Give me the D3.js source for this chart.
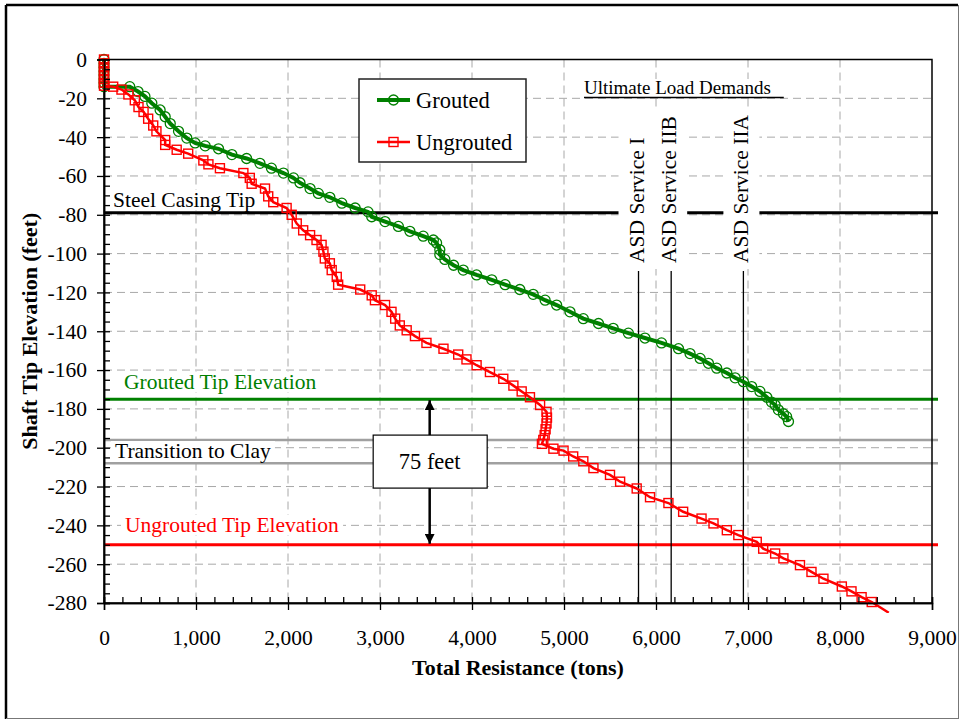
<!DOCTYPE html>
<html>
<head>
<meta charset="utf-8">
<script src="https://cdn.jsdelivr.net/npm/d3@7"></script>
<style>
  body { margin: 0; background: #fff; }
  svg { display: block; font-family: "Times New Roman", "Liberation Serif", serif; }
</style>
</head>
<body>
<div id="chart"></div>
<script>
// axis ticks
var xTicks = [0, 1000, 2000, 3000, 4000, 5000, 6000, 7000, 8000, 9000];
var yTicks = [0, -20, -40, -60, -80, -100, -120, -140, -160, -180, -200, -220, -240, -260, -280];

// grouted shaft: total resistance (tons) vs tip elevation (feet)
var groutedTons = [0, 0, 0, 0, 0, 0, 0, 0, 280, 370, 445, 520, 610, 665, 720, 810, 900, 990, 1100, 1245,
  1390, 1550, 1695, 1820, 1950, 2060, 2130, 2240, 2330, 2455, 2585, 2730, 2870, 2910, 3055, 3200, 3325,
  3470, 3580, 3615, 3650, 3650, 3705, 3800, 3905, 4050, 4215, 4360, 4520, 4665, 4795, 4920, 5065, 5210,
  5375, 5535, 5700, 5880, 6060, 6245, 6370, 6480, 6570, 6660, 6770, 6860, 6950, 7040, 7130, 7205, 7255,
  7295, 7330, 7385, 7420, 7440];
var groutedElev = [0, -2, -4, -6, -8, -10, -12, -14, -14, -16.5, -19, -22.5, -26, -29.5, -33, -37, -40.5,
  -43, -44.5, -46, -49, -51, -53.5, -56, -58.5, -61, -63.5, -66.5, -69, -71, -74, -76.5, -78.5, -81, -83.5,
  -86, -88.5, -91, -93, -94.5, -98, -100.5, -103, -106, -108.5, -111, -113.5, -116, -118.5, -121, -124,
  -126.5, -130, -133.5, -136, -138.5, -141, -143.5, -146, -149, -151.5, -154, -156.5, -159, -161.5, -164,
  -166, -168.5, -171, -174, -176.5, -178, -180.5, -182.5, -184, -186.5];

// ungrouted shaft
var ungroutedTons = [0, 0, 0, 0, 0, 0, 0, 0, 100, 190, 265, 335, 375, 430, 480, 535, 570, 665, 665, 790,
  915, 1080, 1135, 1260, 1515, 1585, 1605, 1750, 1785, 1840, 1985, 2040, 2095, 2165, 2240, 2310, 2365,
  2385, 2400, 2455, 2475, 2530, 2545, 2785, 2910, 2945, 3055, 3125, 3165, 3215, 3290, 3380, 3505, 3690,
  3850, 3940, 4050, 4195, 4340, 4450, 4540, 4630, 4740, 4810, 4815, 4810, 4800, 4790, 4775, 4760, 4885,
  4995, 5100, 5210, 5320, 5500, 5610, 5790, 5935, 6135, 6295, 6495, 6625, 6770, 6895, 7095, 7165, 7295,
  7385, 7565, 7690, 7820, 8020, 8125, 8235, 8345, 8530];
var ungroutedElev = [0, -2, -4, -6, -8, -10, -12, -13.5, -14, -15.5, -18, -21, -24.5, -27, -30.5, -34, -37,
  -41.5, -44, -46.5, -48.5, -52, -54, -56, -58.5, -61, -64, -66.5, -70.5, -73.5, -76.5, -80, -84.5, -88,
  -90.5, -93, -95.5, -99, -102.5, -105, -108.5, -112, -116, -118.5, -121.5, -124, -126.5, -130, -133.5,
  -137, -139.5, -142.5, -146, -149, -152, -154.5, -157.5, -161, -164.5, -168, -171, -174, -178, -181.5,
  -184.5, -187.5, -190.5, -193.5, -196, -198, -200.5, -201.5, -204.5, -207, -210.5, -214, -217.5, -221,
  -225.5, -228.5, -233, -236.5, -239, -242.5, -245, -248.5, -252, -254.5, -257, -260.5, -264, -267.5,
  -271.5, -274, -277, -279.5, -285];

// horizontal reference elevations (feet)
var casingTip = -79;
var groutedTip = -175;
var clayTop = -196;
var clayBottom = -208;
var ungroutedTip = -250;

// ultimate load demands (tons)
var demandNames = ["ASD Service I", "ASD Service IIB", "ASD Service IIA"];
var demandTons = [5810, 6165, 6950];
var demandTopElev = -109;

var W = 964, H = 721;
var font = 21.5;

var x = d3.scaleLinear().domain([0, 9000]).range([104, 932]);
var y = d3.scaleLinear().domain([0, -280]).range([59.5, 603]);

var svg = d3.select("#chart").append("svg")
  .attr("width", W)
  .attr("height", H);

svg.append("rect").attr("width", W).attr("height", H).attr("fill", "#fff");

svg.append("defs").append("clipPath").attr("id", "plotClip")
  .append("rect")
  .attr("x", x(0) - 8).attr("y", y(0) - 10)
  .attr("width", x(9000) - x(0) + 16).attr("height", y(-280) - y(0) + 20);

// gridlines
var grid = svg.append("g").attr("stroke", "#a8a8a8").attr("stroke-width", 1).attr("stroke-dasharray", "8,5");
grid.selectAll("line.h")
  .data(yTicks.filter(function(d) { return d !== 0 && d !== -280; }))
  .enter().append("line")
  .attr("x1", x(0)).attr("x2", x(9000))
  .attr("y1", function(d) { return y(d); }).attr("y2", function(d) { return y(d); });
grid.selectAll("line.v")
  .data(xTicks.filter(function(d) { return d !== 0 && d !== 9000; }))
  .enter().append("line")
  .attr("y1", y(0)).attr("y2", y(-280))
  .attr("x1", function(d) { return x(d); }).attr("x2", function(d) { return x(d); });

// reference elevations
function refLine(elev, color, width) {
  svg.append("line")
    .attr("x1", x(0)).attr("x2", x(9000) + 6)
    .attr("y1", y(elev)).attr("y2", y(elev))
    .attr("stroke", color).attr("stroke-width", width);
}
refLine(clayTop, "#a0a0a0", 2.5);
refLine(clayBottom, "#a0a0a0", 2.5);
refLine(groutedTip, "#008000", 3);
refLine(ungroutedTip, "#ff0000", 3);
refLine(casingTip, "#000", 3);

// label with white box behind it
function boxedLabel(txt, px, py, color, size) {
  var g = svg.append("g");
  var bg = g.append("rect").attr("fill", "#fff");
  var t = g.append("text")
    .attr("x", px).attr("y", py)
    .attr("font-size", size)
    .attr("fill", color)
    .text(txt);
  var bb = t.node().getBBox();
  bg.attr("x", bb.x - 4).attr("y", bb.y + 2).attr("width", bb.width + 8).attr("height", bb.height - 4);
  return t;
}
boxedLabel("Steel Casing Tip", 113, 207, "#000", font);
boxedLabel("Grouted Tip Elevation", 124, 389, "#008000", font);
boxedLabel("Transition to Clay", 115, 458, "#000", font);
boxedLabel("Ungrouted Tip Elevation", 125, 532, "#ff0000", font);

// ultimate load demand lines
svg.selectAll("line.demand")
  .data(demandTons)
  .enter().append("line")
  .attr("x1", function(d) { return x(d); }).attr("x2", function(d) { return x(d); })
  .attr("y1", y(demandTopElev)).attr("y2", y(-280))
  .attr("stroke", "#000").attr("stroke-width", 1.3);

demandTons.forEach(function(d, i) {
  var g = svg.append("g")
    .attr("transform", "translate(" + (x(d) + 5) + "," + 263 + ") rotate(-90)");
  var bg = g.append("rect").attr("fill", "#fff");
  var t = g.append("text")
    .attr("font-size", font)
    .attr("fill", "#000")
    .text(demandNames[i]);
  var bb = t.node().getBBox();
  bg.attr("x", bb.x - 6).attr("y", bb.y - 6).attr("width", bb.width + 12).attr("height", bb.height + 12);
});

var uld = boxedLabel("Ultimate Load Demands", 584, 94, "#000", 19);
var ub = uld.node().getBBox();
svg.append("line")
  .attr("x1", ub.x).attr("x2", ub.x + ub.width + 13)
  .attr("y1", 97.5).attr("y2", 97.5)
  .attr("stroke", "#000").attr("stroke-width", 1.5);

// plot border and axes
svg.append("rect")
  .attr("x", x(0)).attr("y", y(0))
  .attr("width", x(9000) - x(0)).attr("height", y(-280) - y(0))
  .attr("fill", "none").attr("stroke", "#000").attr("stroke-width", 1.5);

// annotation: 75 feet between tip elevations
var arrowTons = 3540;
var defs = svg.select("defs");
defs.append("marker").attr("id", "arrowHead")
  .attr("viewBox", "0 0 10 10").attr("refX", 10).attr("refY", 5)
  .attr("markerWidth", 4).attr("markerHeight", 4)
  .attr("orient", "auto-start-reverse")
  .append("path").attr("d", "M0,0 L10,5 L0,10 z").attr("fill", "#000");
svg.append("line")
  .attr("x1", x(arrowTons)).attr("x2", x(arrowTons))
  .attr("y1", y(groutedTip) + 1).attr("y2", y(ungroutedTip) - 1)
  .attr("stroke", "#000").attr("stroke-width", 2.5)
  .attr("marker-start", "url(#arrowHead)")
  .attr("marker-end", "url(#arrowHead)");
svg.append("rect")
  .attr("x", x(arrowTons) - 56.5).attr("y", y(-193.5))
  .attr("width", 114).attr("height", 53)
  .attr("fill", "#fff").attr("stroke", "#000").attr("stroke-width", 1.2);
svg.append("text")
  .attr("x", x(arrowTons)).attr("y", y(-193.5) + 34)
  .attr("text-anchor", "middle")
  .attr("font-size", font + 1)
  .text("75 feet");

// series
var line = d3.line()
  .x(function(d) { return x(d[0]); })
  .y(function(d) { return y(d[1]); });

var grouted = d3.zip(groutedTons, groutedElev);
var ungrouted = d3.zip(ungroutedTons, ungroutedElev);

var series = svg.append("g").attr("clip-path", "url(#plotClip)");

series.append("path")
  .datum(grouted)
  .attr("d", line)
  .attr("fill", "none").attr("stroke", "#008000").attr("stroke-width", 4);
series.selectAll("circle.g")
  .data(grouted)
  .enter().append("circle")
  .attr("cx", function(d) { return x(d[0]); })
  .attr("cy", function(d) { return y(d[1]); })
  .attr("r", 5)
  .attr("fill", "none").attr("stroke", "#008000").attr("stroke-width", 1.3);

series.append("path")
  .datum(ungrouted)
  .attr("d", line)
  .attr("fill", "none").attr("stroke", "#ff0000").attr("stroke-width", 2.5);
series.selectAll("rect.u")
  .data(ungrouted.filter(function(d) { return d[1] >= -281; }))
  .enter().append("rect")
  .attr("x", function(d) { return x(d[0]) - 4.5; })
  .attr("y", function(d) { return y(d[1]) - 4.5; })
  .attr("width", 9).attr("height", 9)
  .attr("fill", "none").attr("stroke", "#ff0000").attr("stroke-width", 1.4);

// axes
var yAxis = svg.append("g")
  .attr("transform", "translate(" + x(0) + ",0)")
  .call(d3.axisLeft(y).tickValues(yTicks).tickSize(7).tickPadding(10)
    .tickFormat(function(d) { return String(d); }));
svg.append("g")
  .attr("transform", "translate(" + x(0) + ",0)")
  .call(d3.axisRight(y).tickValues(d3.range(0, -281, -5)).tickSize(6).tickFormat(""));

var xAxis = svg.append("g")
  .attr("transform", "translate(0," + y(-280) + ")")
  .call(d3.axisBottom(x).tickValues(xTicks).tickSize(7).tickPadding(20).tickFormat(d3.format(",")));
svg.append("g")
  .attr("transform", "translate(0," + y(-280) + ")")
  .call(d3.axisTop(x).tickValues(d3.range(0, 9001, 200)).tickSize(6).tickFormat(""));

svg.selectAll(".domain").attr("stroke", "#000").attr("stroke-width", 1.5);
svg.selectAll(".tick line").attr("stroke", "#000").attr("stroke-width", 1.3);
svg.selectAll(".tick text")
  .attr("font-family", "'Times New Roman', 'Liberation Serif', serif")
  .attr("font-size", font).attr("fill", "#000");

// axis titles
svg.append("text")
  .attr("x", x(4500)).attr("y", 675)
  .attr("text-anchor", "middle")
  .attr("font-size", font + 0.5).attr("font-weight", "bold")
  .text("Total Resistance (tons)");
svg.append("text")
  .attr("transform", "translate(37," + y(-140) + ") rotate(-90)")
  .attr("text-anchor", "middle")
  .attr("font-size", font + 0.5).attr("font-weight", "bold")
  .text("Shaft Tip Elevation (feet)");

// legend
var legend = svg.append("g").attr("transform", "translate(359,79)");
legend.append("rect")
  .attr("width", 167).attr("height", 83)
  .attr("fill", "#fff").attr("stroke", "#222").attr("stroke-width", 1.5);
var lg = legend.append("g").attr("transform", "translate(0,21)");
lg.append("line").attr("x1", 18).attr("x2", 51).attr("stroke", "#008000").attr("stroke-width", 4);
lg.append("circle").attr("cx", 34.5).attr("r", 5).attr("fill", "none").attr("stroke", "#008000").attr("stroke-width", 1.3);
lg.append("text").attr("x", 57).attr("y", 8).attr("font-size", font + 1).text("Grouted");
var lu = legend.append("g").attr("transform", "translate(0,63)");
lu.append("line").attr("x1", 18).attr("x2", 51).attr("stroke", "#ff0000").attr("stroke-width", 2.5);
lu.append("rect").attr("x", 30).attr("y", -4.5).attr("width", 9).attr("height", 9)
  .attr("fill", "none").attr("stroke", "#ff0000").attr("stroke-width", 1.4);
lu.append("text").attr("x", 57).attr("y", 8).attr("font-size", font + 1).text("Ungrouted");

// chart frame
svg.append("line").attr("x1", 6).attr("x2", 958).attr("y1", 5).attr("y2", 5).attr("stroke", "#000").attr("stroke-width", 2.5);
svg.append("line").attr("x1", 6).attr("x2", 6).attr("y1", 5).attr("y2", 719).attr("stroke", "#000").attr("stroke-width", 2.5);
svg.append("line").attr("x1", 958.5).attr("x2", 958.5).attr("y1", 5).attr("y2", 719).attr("stroke", "#777").attr("stroke-width", 1);
svg.append("line").attr("x1", 6).attr("x2", 958.5).attr("y1", 718.5).attr("y2", 718.5).attr("stroke", "#777").attr("stroke-width", 1);
</script>
</body>
</html>
